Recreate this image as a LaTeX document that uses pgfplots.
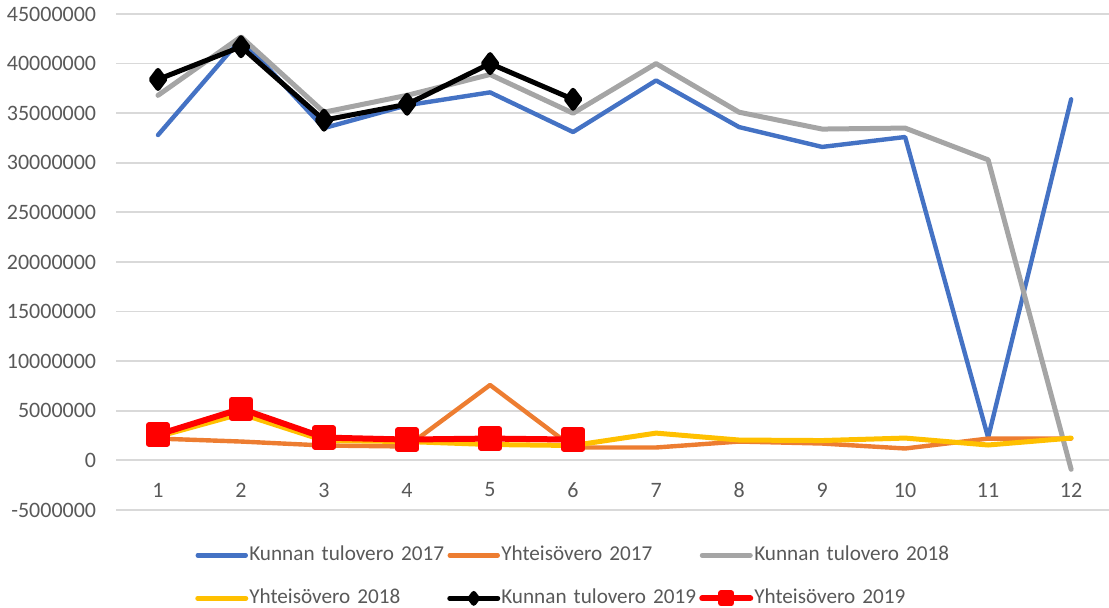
\documentclass[border=0pt]{standalone}
\usepackage{fontspec}
\setmainfont{Carlito}
\usepackage{pgfplots}
\pgfplotsset{compat=1.18}

\definecolor{c17}{HTML}{4472C4}
\definecolor{y17}{HTML}{ED7D31}
\definecolor{c18}{HTML}{A5A5A5}
\definecolor{y18}{HTML}{FFC000}
\definecolor{y19}{HTML}{FF0000}
\definecolor{txt}{HTML}{595959}
\definecolor{gridc}{HTML}{D9D9D9}

\begin{document}
\begin{tikzpicture}
\begin{axis}[
    width=496pt, height=248pt,
    scale only axis,
    xmin=0.5, xmax=12.45,
    ymin=-5000000, ymax=45000000,
    xtick={1,2,3,4,5,6,7,8,9,10,11,12},
    ytick={-5000000,0,5000000,10000000,15000000,20000000,25000000,30000000,35000000,40000000,45000000},
    scaled y ticks=false,
    axis line style={draw=none},
    major tick length=0pt,
    xmajorgrids=false,
    ymajorgrids=true,
    y grid style={draw=gridc, line width=0.9pt},
    font=\fontsize{11}{13}\selectfont,
    /pgf/number format/assume math mode=true,
    y tick label style={/pgf/number format/fixed, /pgf/number format/precision=0,
        /pgf/number format/1000 sep={}, anchor=east, inner sep=0pt, xshift=-10pt, text=txt},
    x tick label style={anchor=center, yshift=10pt, text=txt},
    legend columns=3,
    legend style={at={(0.079,-0.0726)}, anchor=north west, draw=none, fill=none,
        inner sep=0pt, row sep=12.5pt,
        nodes={inner sep=0pt, text width=99pt, align=left, text height=7pt,
            text depth=2pt, text=txt, font=\fontsize{10.6}{12}\selectfont},
        /tikz/every odd column/.style={column sep=0.5pt}},
    legend image code/.code={
        \draw[mark repeat=2, mark phase=2, #1, every mark/.append style={scale=0.55}]
            plot coordinates {(0pt,0pt) (12pt,0pt) (24pt,0pt)};},
    every axis plot/.append style={line join=round, line cap=round},
]
% Kunnan tulovero 2017
\addplot[c17, line width=2.2pt, no marks] coordinates {
    (1,32800000) (2,42500000) (3,33500000) (4,35800000) (5,37100000) (6,33100000)
    (7,38300000) (8,33600000) (9,31600000) (10,32600000) (11,2300000) (12,36400000)};
\addlegendentry{Kunnan tulovero 2017}
% Yhteisovero 2017
\addplot[y17, line width=2.2pt, no marks] coordinates {
    (1,2200000) (2,1900000) (3,1500000) (4,1400000) (5,7600000) (6,1300000)
    (7,1300000) (8,1900000) (9,1700000) (10,1200000) (11,2200000) (12,2200000)};
\addlegendentry{Yhteisövero 2017}
% Kunnan tulovero 2018
\addplot[c18, line width=2.5pt, no marks] coordinates {
    (1,36800000) (2,42700000) (3,35100000) (4,36800000) (5,38900000) (6,35000000)
    (7,40000000) (8,35100000) (9,33400000) (10,33500000) (11,30300000) (12,-900000)};
\addlegendentry{Kunnan tulovero 2018}
% Yhteisovero 2018
\addplot[y18, line width=2.5pt, no marks] coordinates {
    (1,2400000) (2,4700000) (3,2000000) (4,1900000) (5,1600000) (6,1500000)
    (7,2750000) (8,2050000) (9,2000000) (10,2250000) (11,1550000) (12,2250000)};
\addlegendentry{Yhteisövero 2018}
% Kunnan tulovero 2019
\addplot[black, line width=2.5pt, mark=diamond*, mark size=4.5pt, mark options={solid}] coordinates {
    (1,38400000) (2,41700000) (3,34300000) (4,35900000) (5,40000000) (6,36400000)};
\addlegendentry{Kunnan tulovero 2019}
% Yhteisovero 2019
\addplot[y19, line width=3pt, mark=square*, mark size=4.6pt, mark options={solid}] coordinates {
    (1,2600000) (2,5200000) (3,2300000) (4,2100000) (5,2200000) (6,2100000)};
\addlegendentry{Yhteisövero 2019}
\end{axis}
\pgfresetboundingbox
\path (current axis.south west) ++(-58.25pt,-49pt) rectangle ++(554.5pt,304pt);
\end{tikzpicture}
\end{document}
